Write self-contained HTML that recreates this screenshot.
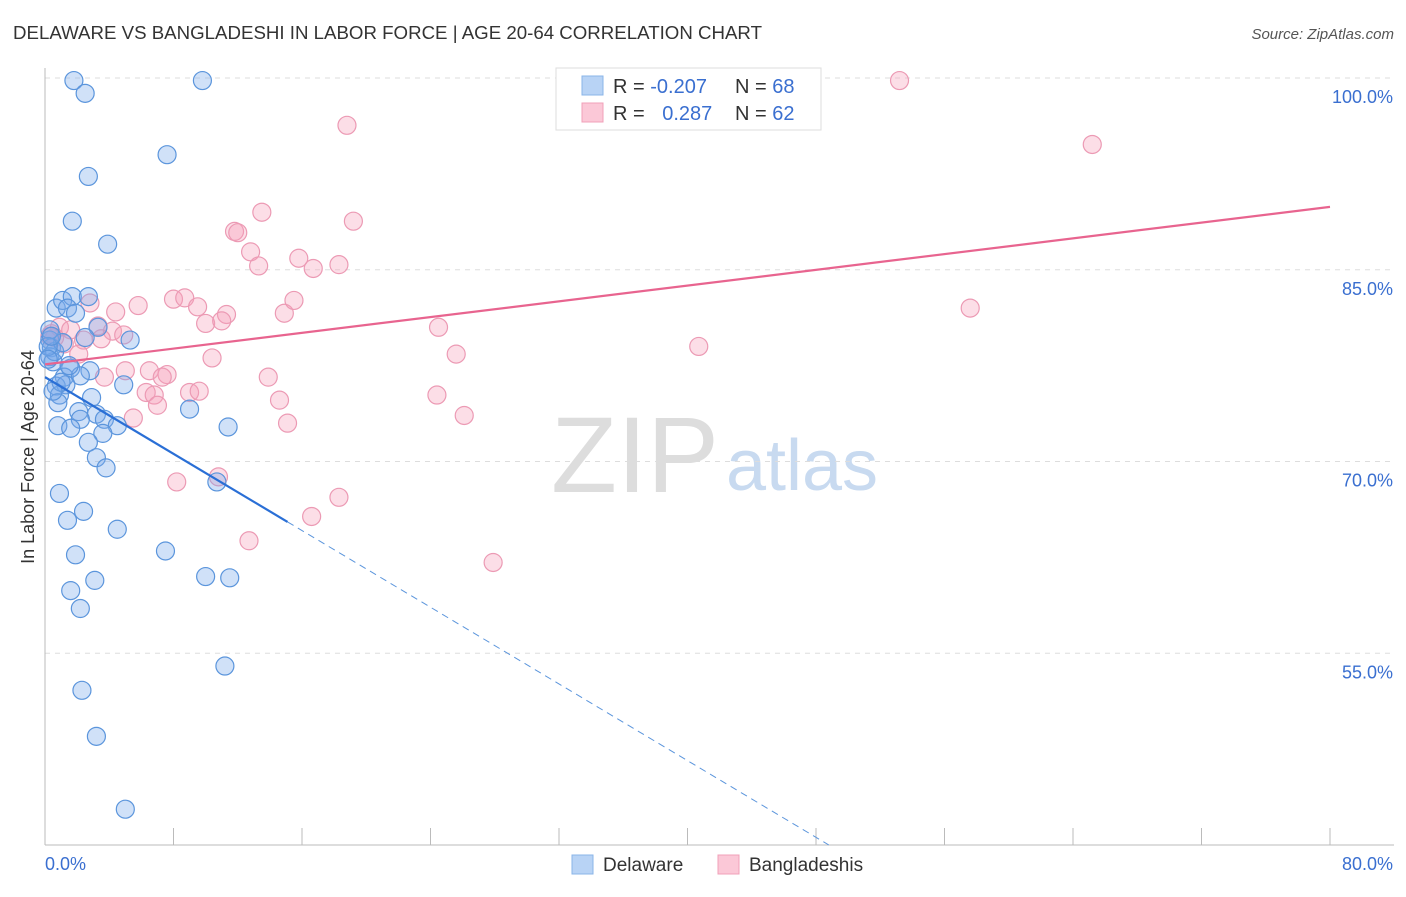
<!DOCTYPE html>
<html><head><meta charset="utf-8"><style>
body{margin:0;background:#fff;font-family:"Liberation Sans",sans-serif}
svg text{font-family:"Liberation Sans",sans-serif}
</style></head><body>
<svg id="chart" width="1406" height="892" viewBox="0 0 1406 892">
<text x="13" y="39" font-size="18" fill="#333" textLength="749" lengthAdjust="spacingAndGlyphs">DELAWARE VS BANGLADESHI IN LABOR FORCE | AGE 20-64 CORRELATION CHART</text>
<text x="1394" y="39" font-size="15" fill="#555" font-style="italic" text-anchor="end">Source: ZipAtlas.com</text>
<g>
<text x="635" y="492" font-size="108" font-family="Liberation Serif" fill="#ddd" text-anchor="middle">ZIP</text>
<text x="802" y="490" font-size="72" fill="#c8daf0" text-anchor="middle">atlas</text>
</g>
<g id="grid"></g>
<g id="axes"></g>
<g id="marks"></g>
<g>
<rect x="556" y="68" width="265" height="62" fill="#fff" stroke="#ddd"/>
<rect x="582" y="76" width="21" height="19" fill="#b8d3f5" stroke="#8ab4e8"/>
<rect x="582" y="103" width="21" height="19" fill="#fbc8d7" stroke="#f0a0b8"/>
<text x="613" y="93" font-size="20" fill="#333">R = <tspan fill="#3a6fd0">-0.207</tspan></text>
<text x="735" y="93" font-size="20" fill="#333">N = <tspan fill="#3a6fd0">68</tspan></text>
<text x="613" y="120" font-size="20" fill="#333">R = <tspan fill="#3a6fd0" dx="12">0.287</tspan></text>
<text x="735" y="120" font-size="20" fill="#333">N = <tspan fill="#3a6fd0">62</tspan></text>
</g>
<g>
<rect x="572" y="855" width="21" height="19" fill="#b8d3f5" stroke="#8ab4e8"/>
<text x="603" y="871" font-size="19" fill="#333">Delaware</text>
<rect x="718" y="855" width="21" height="19" fill="#fbc8d7" stroke="#f0a0b8"/>
<text x="749" y="871" font-size="19" fill="#333">Bangladeshis</text>
</g>
<text transform="translate(34,457) rotate(-90)" font-size="18" fill="#333" text-anchor="middle">In Labor Force | Age 20-64</text>
</svg>
<script>
const yTicks=[55,70,85,100];
const yTickLabels=["55.0%","70.0%","85.0%","100.0%"];
const xTicks=[0,8,16,24,32,40,48,56,64,72,80];
const delX=[1.8,2.5,9.8,7.6,2.7,1.7,3.9,0.7,1.1,1.7,2.7,1.4,1.9,3.3,5.3,2.5,0.3,0.4,0.3,0.5,1.6,2.8,1.2,2.2,0.7,1.3,4.9,0.9,2.9,0.8,2.1,3.2,9.0,2.2,3.7,4.5,0.8,1.6,11.4,3.6,2.7,3.2,3.8,10.7,0.9,2.4,1.4,4.5,7.5,1.9,3.1,10.0,11.5,1.6,2.2,11.2,2.3,3.2,5.0,0.3,0.6,1.1,0.2,0.4,1.0,0.5,1.5,0.2];
const delY=[99.8,98.8,99.8,94.0,92.3,88.8,87.0,82.0,82.6,82.9,82.9,82.0,81.6,80.5,79.5,79.7,79.5,78.9,78.2,77.8,77.3,77.1,76.6,76.7,75.9,76.0,76.0,75.2,75.0,74.6,73.9,73.7,74.1,73.3,73.3,72.8,72.8,72.6,72.7,72.2,71.5,70.3,69.5,68.4,67.5,66.1,65.4,64.7,63.0,62.7,60.7,61.0,60.9,59.9,58.5,54.0,52.1,48.5,42.8,80.3,78.6,79.3,79.0,79.8,76.2,75.5,77.5,78.0];
const banX=[53.2,18.8,65.2,13.5,19.2,11.8,12.0,12.8,15.8,13.3,16.7,18.3,8.0,8.7,5.8,9.5,4.4,11.3,14.9,2.8,15.5,57.6,10.0,11.0,3.3,24.5,0.9,1.6,4.2,4.9,0.6,2.4,3.5,40.7,2.1,10.4,25.6,5.0,6.5,7.6,3.7,7.3,13.9,6.3,9.0,9.6,6.8,24.4,7.0,14.6,5.5,26.1,15.1,10.8,8.2,18.3,16.6,12.7,27.9,0.4,1.2,0.3];
const banY=[99.8,96.3,94.8,89.5,88.8,88.0,87.9,86.4,85.9,85.3,85.1,85.4,82.7,82.8,82.2,82.1,81.7,81.5,81.6,82.4,82.6,82.0,80.8,81.0,80.6,80.5,80.5,80.3,80.2,79.9,79.7,79.5,79.6,79.0,78.4,78.1,78.4,77.1,77.1,76.8,76.6,76.6,76.6,75.4,75.4,75.5,75.2,75.2,74.4,74.8,73.4,73.6,73.0,68.8,68.4,67.2,65.7,63.8,62.1,80.0,79.2,79.8];
const delTrend=[76.6,-0.75];
const banTrend=[77.6,0.154];
const X0=45,X1=1330,YT=78,YB=845,XMAX=80,YMIN=40,YMAX=100;
const sx=v=>X0+(v/XMAX)*(X1-X0);
const sy=v=>YT+(YMAX-v)/(YMAX-YMIN)*(YB-YT);
const NS="http://www.w3.org/2000/svg";
function mk(t,a,p){const e=document.createElementNS(NS,t);for(const k in a)e.setAttribute(k,a[k]);p.appendChild(e);return e;}
const grid=document.getElementById('grid'),axes=document.getElementById('axes'),marks=document.getElementById('marks');
yTicks.forEach((v,i)=>{
 const l=mk('line',{x1:X0,x2:1394,y1:sy(v),y2:sy(v),stroke:'#ddd','stroke-dasharray':'5,5'},grid);
 
 
 const t=mk('text',{x:1393,y:sy(v)+25,'font-size':18,fill:'#3a6fd0','text-anchor':'end'},axes);
 t.textContent=yTickLabels[i];
 
 
});
const ax=mk('line',{x1:X0,x2:X0,y1:68,y2:YB,stroke:'#bbb'},axes);


const bx=mk('line',{x1:X0,x2:X1+64,y1:YB,y2:YB,stroke:'#bbb'},axes);


xTicks.forEach(v=>{
 const t=mk('line',{x1:sx(v),x2:sx(v),y1:YB-17,y2:YB,stroke:'#bbb'},axes);
 
 
});
[[0,'0.0%','start',45],[80,'80.0%','end',1393]].forEach(d=>{
 const t=mk('text',{x:d[3],y:870,'font-size':18,fill:'#3a6fd0','text-anchor':d[2]},axes);
 t.textContent=d[1];
 
 
});
banX.forEach((x,i)=>{
 const c=mk('circle',{cx:sx(x),cy:sy(banY[i]),r:9,fill:'rgba(245,160,185,0.35)',stroke:'#ec9ab4','stroke-width':1.2},marks);
 
 
});
delX.forEach((x,i)=>{
 const c=mk('circle',{cx:sx(x),cy:sy(delY[i]),r:9,fill:'rgba(120,170,235,0.35)',stroke:'#5b95dc','stroke-width':1.2},marks);
 
 
});
const bl=mk('line',{x1:sx(0),y1:sy(banTrend[0]),x2:sx(80),y2:sy(banTrend[0]+banTrend[1]*80),stroke:'#e8648f','stroke-width':2.2},marks);


const xs=15.1, xe=(YMIN-delTrend[0])/delTrend[1];
const dl=mk('line',{x1:sx(0),y1:sy(delTrend[0]),x2:sx(xs),y2:sy(delTrend[0]+delTrend[1]*xs),stroke:'#2a6fd6','stroke-width':2.2},marks);


const dd=mk('line',{x1:sx(xs),y1:sy(delTrend[0]+delTrend[1]*xs),x2:sx(xe),y2:sy(YMIN),stroke:'#5b95dc','stroke-width':1,'stroke-dasharray':'7,5'},marks);


</script>
</body></html>
